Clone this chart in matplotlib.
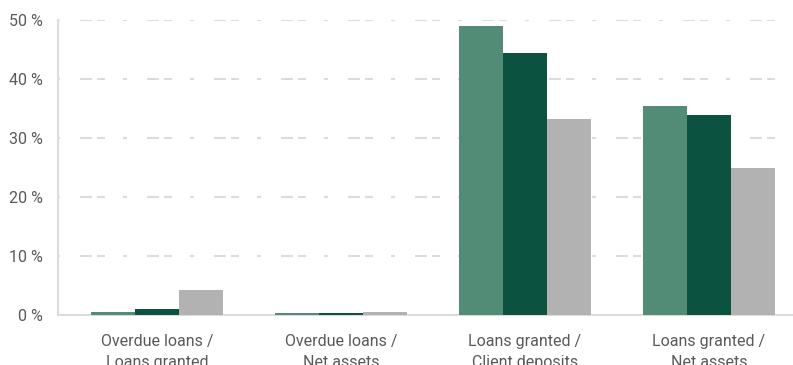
import matplotlib
matplotlib.use("Agg")
import matplotlib.pyplot as plt
import numpy as np

plt.rcParams['font.family'] = ['Roboto', 'DejaVu Sans']
plt.rcParams['lines.scale_dashes'] = False

categories = ["Overdue loans /\nLoans granted", "Overdue loans /\nNet assets",
              "Loans granted /\nClient deposits", "Loans granted /\nNet assets"]
series_a = [0.5, 0.3, 49.0, 35.4]
series_b = [1.1, 0.3, 44.4, 33.9]
series_c = [4.2, 0.5, 33.2, 24.9]
y_ticks = [0, 10, 20, 30, 40, 50]

colors = ["#528c77", "#0b5340", "#b2b2b2"]
text_color = "#595959"
grid_color = "#dcdcdc"

W, H, DPI = 793, 365, 100
fig = plt.figure(figsize=(W / DPI, H / DPI), dpi=DPI)
ax = fig.add_axes([58 / W, 50 / H, 735 / W, 295 / H])

x = np.arange(len(categories))
bw = 0.239
for i, (vals, col) in enumerate(zip([series_a, series_b, series_c], colors)):
    ax.bar(x + (i - 1) * bw, vals, width=bw, color=col, linewidth=0, zorder=3)

ax.set_xlim(-0.538, 3.457)
ax.set_ylim(0, 50)
ax.set_yticks(y_ticks)
ax.set_yticklabels([f"{v} %" for v in y_ticks])
ax.set_xticks(x)
ax.set_xticklabels(categories, linespacing=1.45)

px = 0.72
dash = (45 * px, (12 * px, 5 * px, 8 * px, 18 * px, 4 * px, 20 * px))
for v in y_ticks[1:]:
    ax.axhline(v, color=grid_color, linewidth=1.5, linestyle=dash, zorder=1)

for s in ["top", "right"]:
    ax.spines[s].set_visible(False)
for s in ["left", "bottom"]:
    ax.spines[s].set_color(grid_color)
    ax.spines[s].set_linewidth(1.5)

ax.tick_params(axis="both", length=0, labelsize=11.5, colors=text_color)
ax.tick_params(axis="y", pad=11)
ax.tick_params(axis="x", pad=14)

fig.savefig("out.png", dpi=DPI)
